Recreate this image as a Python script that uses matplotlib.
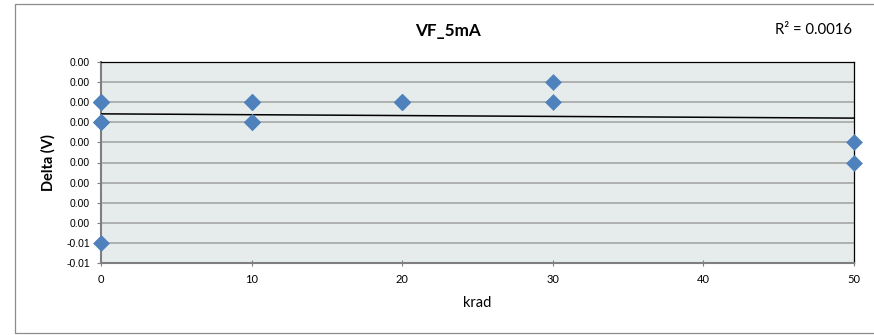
import numpy as np
import matplotlib.pyplot as plt
from matplotlib.patches import Rectangle
from matplotlib.ticker import FuncFormatter

# 每个剂量点的器件 VF 变化量 (V)，重叠点也保留
dose_krad = [0, 0, 0, 0, 0, 0, 0, 0, 0,
             10, 10, 10, 10, 10, 10, 10, 10, 10,
             20, 20, 20, 20, 20, 20,
             30, 30,
             50, 50]
delta_v = [0.002, 0.002, 0.002, 0.002, 0.002, 0.001, 0.001, 0.001, -0.005,
           0.002, 0.002, 0.002, 0.002, 0.002, 0.001, 0.001, 0.001, 0.001,
           0.002, 0.002, 0.002, 0.002, 0.002, 0.002,
           0.003, 0.002,
           0.000, -0.001]

x_ticks = [0, 10, 20, 30, 40, 50]
y_ticks = [0.004, 0.003, 0.002, 0.001, 0.0, -0.001, -0.002, -0.003, -0.004, -0.005, -0.006]

title = 'VF_5mA'
x_label = 'krad'
y_label = 'Delta (V)'

x = np.array(dose_krad, dtype=float)
y = np.array(delta_v, dtype=float)

# 线性趋势线
slope, intercept = np.polyfit(x, y, 1)
r2 = np.corrcoef(x, y)[0, 1] ** 2

W, H = 874, 335
fig = plt.figure(figsize=(W / 100, H / 100), dpi=100)

# 图表外框 (右边超出画布)
fig.patches.append(Rectangle((15 / W, 2 / H), 1.0, (331 - 2) / H, transform=fig.transFigure,
                             fill=False, edgecolor='#8C8C8C', linewidth=0.9, clip_on=False))

left, right, top, bottom = 101, 854, 61.7, 263.3
ax = fig.add_axes([left / W, (H - bottom) / H, (right - left) / W, (bottom - top) / H])
ax.set_facecolor('#E6EBEB')

ax.set_xlim(0, 50)
ax.set_ylim(min(y_ticks), max(y_ticks))
ax.set_xticks(x_ticks)
ax.set_yticks(y_ticks)


def fmt_y(v, pos):
    s = f'{round(v, 3):.2f}'
    return '0.00' if s == '-0.00' else s


ax.yaxis.set_major_formatter(FuncFormatter(fmt_y))

ax.grid(axis='y', color='#A0A0A0', linewidth=1.1, zorder=1)
ax.set_axisbelow(True)

for side in ['left', 'bottom']:
    ax.spines[side].set_color('#7F7F7F')
    ax.spines[side].set_linewidth(1.5)
for side in ['top', 'right']:
    ax.spines[side].set_color('black')
    ax.spines[side].set_linewidth(0.9)

ax.tick_params(axis='x', direction='inout', length=5, width=0.8, color='#7F7F7F', pad=5,
               labelsize=8)
ax.tick_params(axis='y', direction='out', length=3, width=0.8, color='#7F7F7F', pad=5,
               labelsize=7.5)
for lab in ax.get_xticklabels():
    lab.set_fontfamily('Lato')
for lab in ax.get_yticklabels():
    lab.set_fontfamily('Liberation Sans')

xs = np.array([0, 50])
ax.plot(xs, slope * xs + intercept, color='black', linewidth=1.1, zorder=3)
ax.plot(x, y, linestyle='none', marker='D', markersize=8.0, color='#4F81BD',
        markeredgecolor='#4F81BD', markeredgewidth=0.4, zorder=5, clip_on=False)

fig.text(447.5 / W, 1 - 31 / H, title, ha='center', va='center', fontsize=12.3,
         fontweight='bold', family='Lato')
fig.text(477.5 / W, 1 - 303 / H, x_label, ha='center', va='center', fontsize=10.5, family='Lato')
fig.text(48 / W, 1 - 163 / H, y_label, ha='center', va='center', rotation=90, fontsize=10.5,
         fontweight='bold', family='Lato')
fig.text(775 / W, 1 - 30.5 / H, f'R² = {r2:.4f}', ha='left', va='center', fontsize=10.7,
         family='Lato')

fig.savefig('out.png', dpi=100)
